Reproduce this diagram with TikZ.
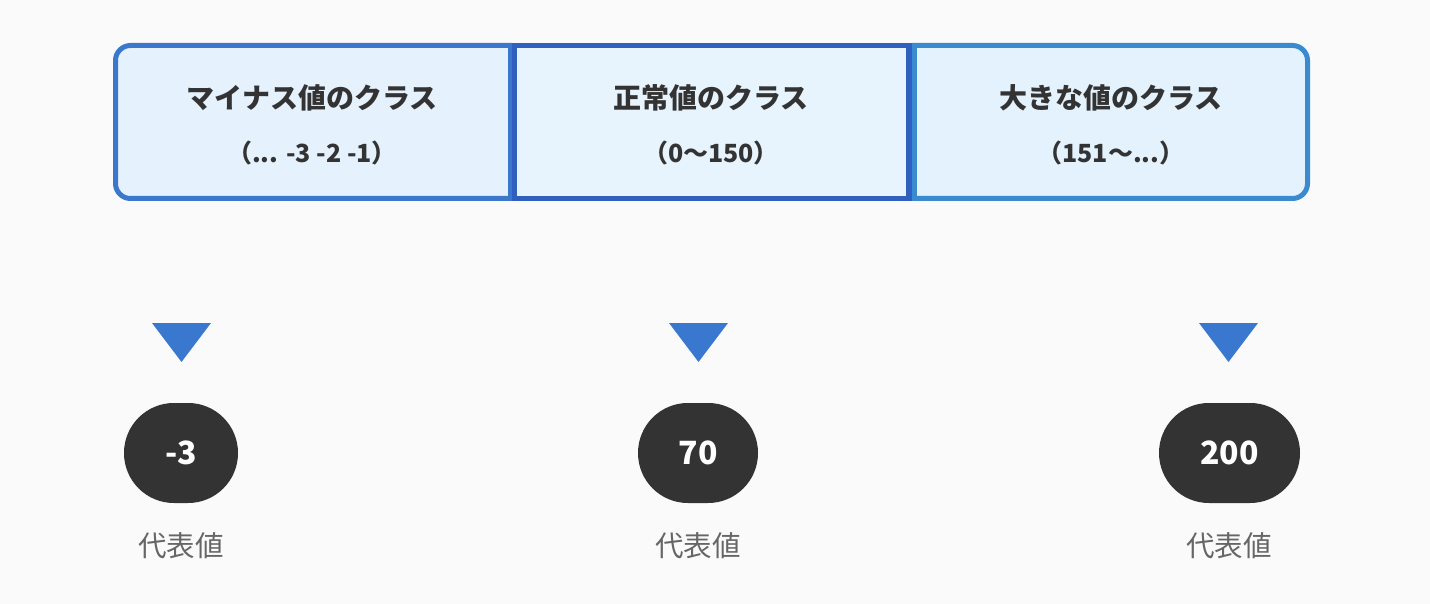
\documentclass[tikz,border=0pt]{standalone}
\usepackage{fontspec}
\setmainfont{Noto Sans CJK JP}
\definecolor{bgc}{HTML}{FAFAFA}
\definecolor{lbord}{HTML}{3B78CC}
\definecolor{mbord}{HTML}{2F5FBF}
\definecolor{rbord}{HTML}{3A8AD0}
\definecolor{lfill}{HTML}{E5F1FC}
\definecolor{mfill}{HTML}{E8F4FD}
\definecolor{rfill}{HTML}{E3F2FD}
\definecolor{txt}{HTML}{333333}
\definecolor{sub}{HTML}{666666}
\definecolor{tri}{HTML}{3A78D0}
\definecolor{pill}{HTML}{333333}
\tikzset{
  titletext/.style={text=txt, font=\fontsize{28}{31}\selectfont\bfseries, inner sep=0pt},
  rangetext/.style={text=txt, font=\fontsize{25}{28}\selectfont\bfseries, inner sep=0pt},
  pillnode/.style={fill=pill, text=white, font=\fontsize{32}{36}\selectfont\bfseries,
    rounded corners=49.9pt, minimum height=100pt, inner sep=0pt},
  lbl/.style={text=sub, font=\fontsize{28.5}{32}\selectfont, inner sep=0pt},
  tristyle/.style={fill=tri},
}
\begin{document}
\begin{tikzpicture}[x=1pt,y=-1pt]
\fill[bgc] (0,0) rectangle (1430,604);
\useasboundingbox (0,0) rectangle (1430,604);
% left box
\draw[lbord, line width=5pt, fill=lfill] (512,45.5) -- (130.5,45.5) arc[start angle=270,end angle=180,radius=15] -- (115.5,183.5) arc[start angle=180,end angle=90,radius=15] -- (512,198.5);
\draw[lbord, line width=5pt] (510,45.5) -- (510,198.5);
% right box
\draw[rbord, line width=5pt, fill=rfill] (912,45.5) -- (1292.5,45.5) arc[start angle=270,end angle=360,radius=15] -- (1307.5,183.5) arc[start angle=0,end angle=90,radius=15] -- (912,198.5);
\draw[rbord, line width=5pt] (914,45.5) -- (914,198.5);
% middle box
\draw[mbord, line width=5.5pt, fill=mfill] (514.5,45.75) rectangle (909,198.75);
% texts
\node[titletext] (t1) at (312,98) {マイナス値のクラス};
\node[rangetext] (r1) at (312,153) {（... -3 -2 -1）};
\node[titletext] (t2) at (711,98) {正常値のクラス};
\node[rangetext] (r2) at (711,153) {（0〜150）};
\node[titletext] (t3) at (1111,98) {大きな値のクラス};
\node[rangetext] (r3) at (1111,153) {（151〜...）};
% triangles
\fill[tristyle] (152,323) -- (211,323) -- (181.5,362) -- cycle;
\fill[tristyle] (669,323) -- (728,323) -- (698.5,362) -- cycle;
\fill[tristyle] (1199,323) -- (1258,323) -- (1228.5,362) -- cycle;
% pills
\node[pillnode, minimum width=114pt] (p1) at (181,453) {-3};
\node[pillnode, minimum width=120pt] (p2) at (698,453) {70};
\node[pillnode, minimum width=141pt] (p3) at (1229.5,453) {200};
% labels
\node[lbl] (l1) at (181,546) {代表値};
\node[lbl] (l2) at (698,546) {代表値};
\node[lbl] (l3) at (1229,546) {代表値};
\end{tikzpicture}
\end{document}
